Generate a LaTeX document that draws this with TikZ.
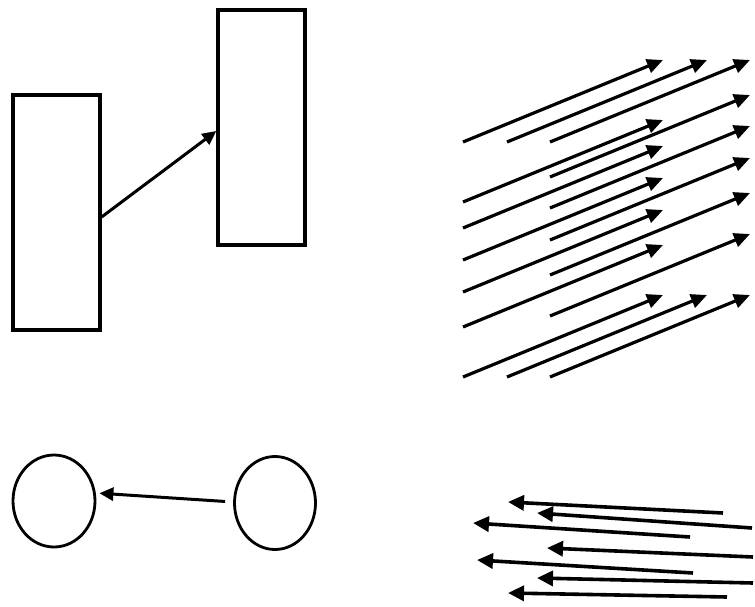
\documentclass[tikz,border=0pt]{standalone}
\usetikzlibrary{arrows.meta,shapes.geometric}
\tikzset{
  box/.style={draw, line width=3.3pt, rectangle, inner sep=0pt,
              minimum width=87pt, minimum height=235pt},
  ring/.style={draw, line width=2.8pt, ellipse, inner sep=0pt},
  link/.style={line width=3pt, -{Triangle[length=14pt,width=13pt]}},
  fieldarrow/.style={line width=3.2pt, -{Triangle[length=16pt,width=14pt]}},
  backarrow/.style={line width=3.6pt, -{Triangle[length=16pt,width=15pt]}}
}
\begin{document}
\begin{tikzpicture}[x=1pt,y=-1pt]
  \useasboundingbox (0,0) rectangle (755,607);

  % two boxes joined by an arrow
  \node[box] (A) at (56.5,212.5) {};
  \node[box] (B) at (261.5,127.5) {};
  \draw[link] ([yshift=-4.5pt]A.east) -- ([yshift=-3.5pt]B.west);

  % two circles, the right one pointing to the left one
  \node[ring, minimum width=82pt, minimum height=92pt] (L) at (54,501) {};
  \node[ring, minimum width=81pt, minimum height=93pt] (R) at (275,503) {};
  \draw[link, shorten <=8pt, shorten >=3pt]
    ([yshift=1pt]R.west) -- ([yshift=8pt]L.east);

  % field of parallel arrows pointing up and to the right
  \foreach \x/\y [count=\i] in {463/142, 507/142, 550/142,
                                463/202, 550/177,
                                463/228, 550/208,
                                463/260, 550/240,
                                463/292, 550/275,
                                463/327, 550/316,
                                463/377, 507/377, 550/377} {
    \coordinate (s\i) at (\x,\y);
    \coordinate (t\i) at (\x+200,\y-82);
    \draw[fieldarrow] (s\i) -- (t\i);
  }

  % bundle of arrows pointing to the left
  \foreach \ax/\ay/\bx/\by [count=\i] in {723/513/508/502,
                                         752/528/537/513,
                                         690/537/473/523,
                                         753/557/547/548,
                                         693/573/477/560,
                                         753/583/537/578,
                                         727/597/508/593} {
    \coordinate (u\i) at (\ax,\ay);
    \coordinate (v\i) at (\bx,\by);
    \draw[backarrow] (u\i) -- (v\i);
  }
\end{tikzpicture}
\end{document}
